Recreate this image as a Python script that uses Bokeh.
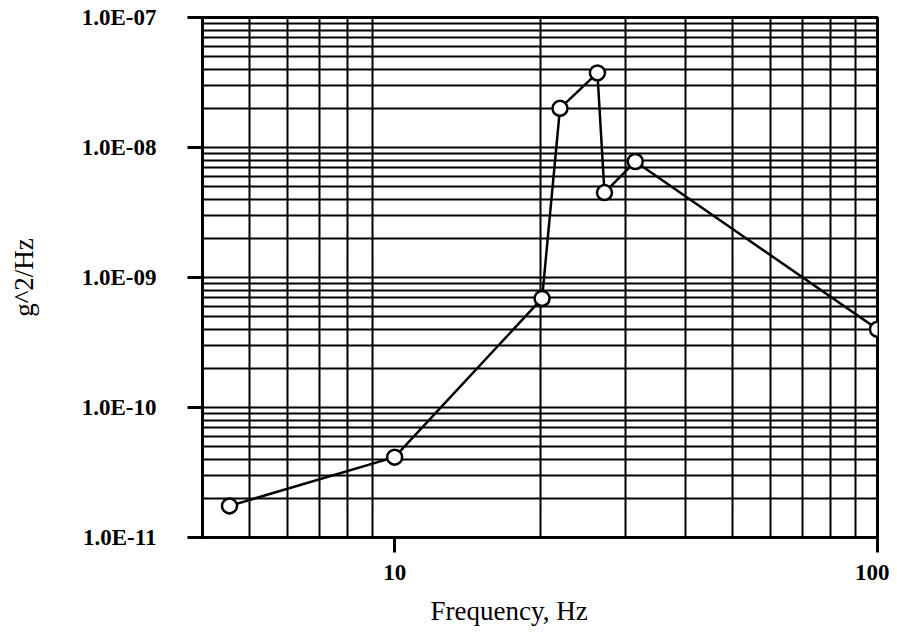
from bokeh.plotting import figure
from bokeh.models import Range1d, FixedTicker, CustomJSTickFormatter, Grid, Title
from bokeh.embed import file_html
from bokeh.resources import INLINE

# data
freq_hz = [4.55, 10, 20.2, 22, 26.3, 27.2, 31.5, 100]
psd_g2hz = [1.75e-11, 4.15e-11, 6.9e-10, 2.0e-8, 3.75e-8, 4.5e-9, 7.8e-9, 4.0e-10]

x_ticks = [10, 100]
x_tick_labels = ["10", "100"]
y_ticks = [1e-11, 1e-10, 1e-9, 1e-8, 1e-7]
y_tick_labels = ["1.0E-11", "1.0E-10", "1.0E-09", "1.0E-08", "1.0E-07"]

x_grid_values = [5, 6, 7, 8, 9, 20, 30, 40, 50, 60, 70, 80, 90]
y_grid_values = [m * 10.0 ** e for e in range(-11, -7) for m in range(1, 10)] + [1e-7]

FONT = "Liberation Serif"

p = figure(x_axis_type="log", y_axis_type="log",
           frame_width=675, frame_height=520,
           min_border_left=202, min_border_right=12,
           min_border_top=17, min_border_bottom=93,
           x_range=Range1d(4, 100), y_range=Range1d(1e-11, 1e-7),
           output_backend="svg", toolbar_location=None)

p.xgrid.grid_line_color = None
p.ygrid.grid_line_color = None
p.add_layout(Grid(dimension=0, ticker=FixedTicker(ticks=x_grid_values),
                  grid_line_color="black", grid_line_width=2))
p.add_layout(Grid(dimension=1, ticker=FixedTicker(ticks=y_grid_values),
                  grid_line_color="black", grid_line_width=2))

p.outline_line_color = "black"
p.outline_line_width = 3

fmt_code = """
for (let i = 0; i < tvals.length; i++) {
  if (Math.abs(Math.log10(tick) - Math.log10(tvals[i])) < 1e-6) return tlabels[i];
}
return '';
"""

p.xaxis.ticker = FixedTicker(ticks=x_ticks, minor_ticks=[])
p.xaxis.formatter = CustomJSTickFormatter(args=dict(tvals=x_ticks, tlabels=x_tick_labels), code=fmt_code)
p.yaxis.ticker = FixedTicker(ticks=y_ticks, minor_ticks=[])
p.yaxis.formatter = CustomJSTickFormatter(args=dict(tvals=y_ticks, tlabels=y_tick_labels), code=fmt_code)

for ax in (p.xaxis[0], p.yaxis[0]):
    ax.axis_line_color = "black"
    ax.axis_line_width = 3
    ax.major_tick_line_color = "black"
    ax.major_tick_line_width = 3
    ax.major_tick_in = 0
    ax.major_tick_out = 15
    ax.minor_tick_line_color = None
    ax.major_label_text_font = FONT
    ax.major_label_text_font_size = "23px"
    ax.major_label_text_font_style = "bold"
    ax.major_label_text_color = "black"
    ax.axis_label_text_font = FONT
    ax.axis_label_text_font_size = "27px"
    ax.axis_label_text_font_style = "normal"
    ax.axis_label_text_color = "black"

p.xaxis.major_label_standoff = 12
p.yaxis.axis_label = "g^2/Hz"
p.yaxis.major_label_standoff = 31
p.yaxis.axis_label_standoff = 40

# x-axis title, placed left of centre as in the original
p.add_layout(Title(text="Frequency, Hz", align="left", offset=228,
                   text_font=FONT, text_font_size="27px",
                   text_font_style="normal", text_color="black",
                   standoff=22), "below")

p.line(freq_hz, psd_g2hz, line_color="black", line_width=2.5)
p.scatter(freq_hz, psd_g2hz, marker="circle", size=15, fill_color="white",
          line_color="black", line_width=2.5)

open("out.html", "w").write(file_html(p, INLINE))
